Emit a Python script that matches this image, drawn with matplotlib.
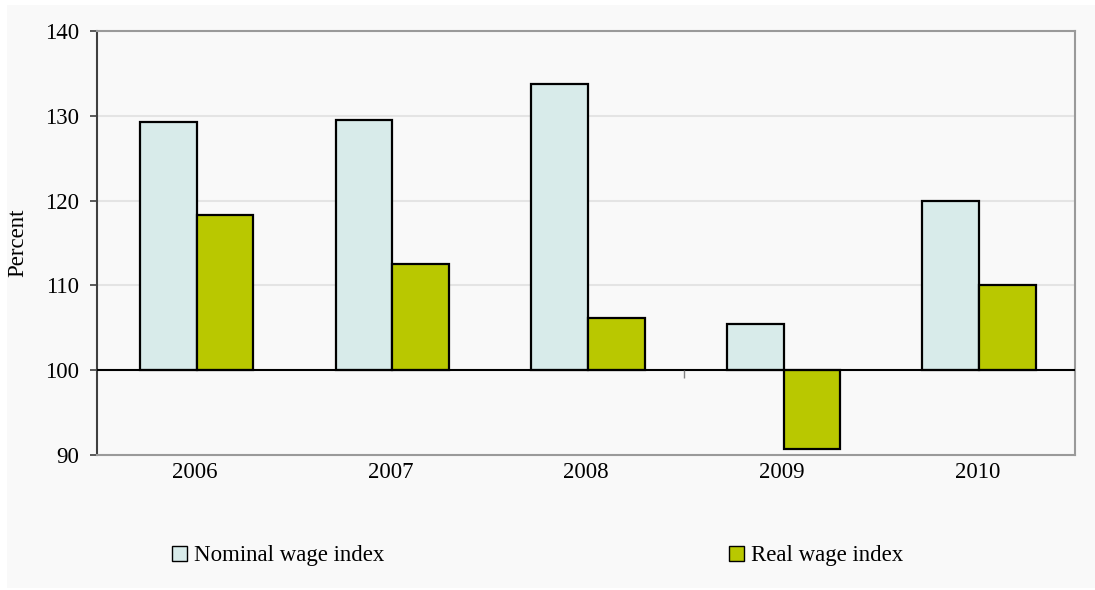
import numpy as np
import matplotlib.pyplot as plt
from matplotlib.patches import Rectangle, Patch

plt.rcParams['font.family'] = ['Liberation Serif', 'DejaVu Serif']
plt.rcParams['font.size'] = 16.5

years = ['2006', '2007', '2008', '2009', '2010']
nominal = [129.3, 129.5, 133.7, 105.4, 120.0]
real = [118.3, 112.5, 106.2, 90.7, 110.1]

base = 100
nom_color = '#d8ebea'
real_color = '#b9c800'

fig = plt.figure(figsize=(10.95, 5.90), dpi=100, facecolor='white')
# grey panel behind everything, thin white margin on top/left
fig.patches.append(Rectangle((7 / 1095, 2 / 590), 1 - 7 / 1095, 1 - 7 / 590,
                             transform=fig.transFigure, facecolor='#f9f9f9',
                             edgecolor='none', zorder=-10))

ax = fig.add_axes([97 / 1095, 1 - 455 / 590, 978 / 1095, 424 / 590])
ax.set_facecolor('#f9f9f9')

x = np.arange(len(years))
w = 0.29
off = 0.01
ax.bar(x - w / 2 + off, np.array(nominal) - base, w, bottom=base,
       color=nom_color, edgecolor='black', linewidth=1.6, zorder=3)
ax.bar(x + w / 2 + off, np.array(real) - base, w, bottom=base,
       color=real_color, edgecolor='black', linewidth=1.6, zorder=3)

ax.set_xlim(-0.5, len(years) - 0.5)
ax.set_ylim(90, 140)
ax.set_yticks([90, 100, 110, 120, 130, 140])
ax.set_xticks(x)
ax.set_xticklabels(years)

for v in [110, 120, 130]:
    ax.axhline(v, color='#e4e4e4', linewidth=1.5, zorder=1)
ax.axhline(base, color='black', linewidth=1.5, zorder=4)
ax.vlines(2.5, base - 0.9, base, color='#808080', linewidth=1, zorder=4)

for s in ['top', 'right', 'bottom']:
    ax.spines[s].set_color('#9a9a9a')
    ax.spines[s].set_linewidth(1.5)
ax.spines['left'].set_color('#404040')
ax.spines['left'].set_linewidth(1.5)

ax.tick_params(axis='y', length=5, width=1.2, color='#404040', pad=8)
ax.tick_params(axis='x', length=0, pad=5)

fig.text(18 / 1095, 0.5 + (295 - 243) / 590, 'Percent', rotation=90,
         ha='center', va='center')

h1 = Patch(facecolor=nom_color, edgecolor='black', linewidth=1)
h2 = Patch(facecolor=real_color, edgecolor='black', linewidth=1)
for h, lab, xpos in [(h1, 'Nominal wage index', 172), (h2, 'Real wage index', 729)]:
    fig.legend(handles=[h], labels=[lab], loc='center left',
               bbox_to_anchor=(xpos / 1095, 1 - 556 / 590),
               frameon=False, borderpad=0, borderaxespad=0,
               handlelength=0.66, handleheight=0.66, handletextpad=0.3)

fig.savefig('out.png', dpi=100, facecolor=fig.get_facecolor())
